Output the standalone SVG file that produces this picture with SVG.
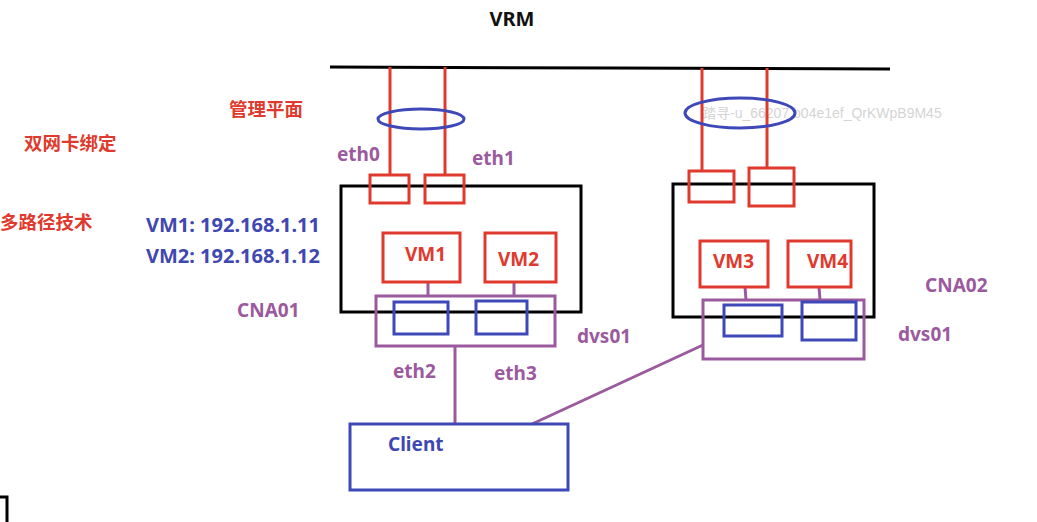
<svg xmlns="http://www.w3.org/2000/svg" width="1037" height="522" viewBox="0 0 1037 522">
<style>
.t{font-family:"Noto Sans","Noto Sans CJK SC",sans-serif;font-weight:bold}
.c{font-family:"Noto Sans CJK SC","Noto Sans",sans-serif;font-weight:bold;font-size:18.5px}
.red{fill:#e03a2e}.blue{fill:#3f48b0}.purple{fill:#9b5a9e}.black{fill:#111}
.rbox{fill:none;stroke:#e03a2e;stroke-width:3}
.bbox{fill:none;stroke:#3f48b8;stroke-width:3}
.pbox{fill:none;stroke:#9b5a9e;stroke-width:3}
.kbox{fill:none;stroke:#000;stroke-width:3}
.rl{stroke:#e03a2e;stroke-width:3}
.pl{stroke:#9b5a9e;stroke-width:3}
.ell{fill:none;stroke:#3f48b8;stroke-width:3}
</style>
<rect width="1037" height="522" fill="#fff"/>
<text class="t black" x="512" y="26" font-size="20" text-anchor="middle">VRM</text>
<text x="702" y="118" font-family="'Liberation Sans','Noto Sans CJK SC',sans-serif" font-size="14" fill="#d4d4d4">踏寻-u_66207 b04e1ef_QrKWpB9M45</text>
<g id="connectors">
<path d="M330 67 L612 68 L890 69" stroke="#000" stroke-width="3" fill="none"/>
<line class="rl" x1="390" y1="67" x2="390" y2="175"/>
<line class="rl" x1="445" y1="67" x2="445" y2="175"/>
<line class="rl" x1="702" y1="68" x2="702" y2="171"/>
<line class="rl" x1="767" y1="68" x2="767" y2="168"/>
<line class="pl" x1="428" y1="282" x2="428" y2="296"/>
<line class="pl" x1="514" y1="282" x2="514" y2="296"/>
<line class="pl" x1="745" y1="287" x2="746" y2="300"/>
<line class="pl" x1="819" y1="287" x2="820" y2="300"/>
<line class="pl" x1="455" y1="346" x2="455" y2="424"/>
<line class="pl" x1="532" y1="424" x2="703" y2="345"/>
</g>
<g id="bond1"><ellipse class="ell" cx="421" cy="119" rx="43" ry="10"/></g>
<g id="bond2"><ellipse class="ell" cx="740" cy="113" rx="55" ry="15"/></g>
<g id="labels">
<text class="c red" x="229" y="116">管理平面</text>
<text class="c red" x="24" y="150">双网卡绑定</text>
<text class="c red" x="0" y="229">多路径技术</text>
<text class="t blue" x="146" y="232" font-size="20">VM1: 192.168.1.11</text>
<text class="t blue" x="146" y="263" font-size="20">VM2: 192.168.1.12</text>
<text class="t purple" x="337" y="161" font-size="19">eth0</text>
<text class="t purple" x="472" y="165" font-size="19">eth1</text>
<text class="t purple" x="237" y="317" font-size="19">CNA01</text>
<text class="t purple" x="577" y="343" font-size="19">dvs01</text>
<text class="t purple" x="393" y="378" font-size="19">eth2</text>
<text class="t purple" x="494" y="380" font-size="19">eth3</text>
<text class="t purple" x="925" y="292" font-size="19">CNA02</text>
<text class="t purple" x="898" y="341" font-size="19">dvs01</text>
</g>
<g id="CNA01">
<rect class="kbox" x="341" y="186" width="240" height="126"/>
</g>
<g id="nic-eth0"><rect class="rbox" x="370" y="175" width="39" height="28"/></g>
<g id="nic-eth1"><rect class="rbox" x="425" y="175" width="39" height="28"/></g>
<g id="VM1"><rect class="rbox" x="383" y="233" width="77" height="49"/><text class="t red" x="405" y="261" font-size="19">VM1</text></g>
<g id="VM2"><rect class="rbox" x="485" y="233" width="71" height="49"/><text class="t red" x="498" y="266" font-size="19">VM2</text></g>
<g id="dvs01-a"><rect class="pbox" x="376" y="296" width="179" height="50"/></g>
<g id="eth2"><rect class="bbox" x="394" y="302" width="54" height="32"/></g>
<g id="eth3"><rect class="bbox" x="476" y="301" width="51" height="33"/></g>
<g id="CNA02">
<rect class="kbox" x="673" y="184" width="201" height="133"/>
</g>
<g id="nic-r1"><rect class="rbox" x="689" y="171" width="45" height="31"/></g>
<g id="nic-r2"><rect class="rbox" x="749" y="168" width="45" height="38"/></g>
<g id="VM3"><rect class="rbox" x="700" y="241" width="68" height="46"/><text class="t red" x="713" y="268" font-size="19">VM3</text></g>
<g id="VM4"><rect class="rbox" x="788" y="241" width="63" height="46"/><text class="t red" x="807" y="268" font-size="19">VM4</text></g>
<g id="dvs01-b"><rect class="pbox" x="703" y="300" width="161" height="59"/></g>
<g id="eth-r1"><rect class="bbox" x="724" y="305" width="58" height="31"/></g>
<g id="eth-r2"><rect class="bbox" x="802" y="302" width="54" height="38"/></g>
<g id="Client"><rect class="bbox" x="350" y="424" width="218" height="66"/><text class="t blue" x="388" y="451" font-size="19">Client</text></g>
<path d="M0 497 H7 V522" fill="none" stroke="#000" stroke-width="3"/>
</svg>
